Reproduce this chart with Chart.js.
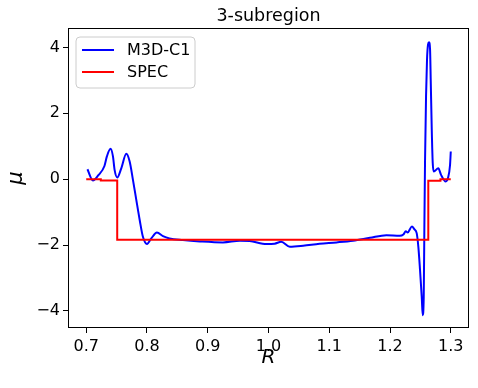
<!DOCTYPE html>
<html>
<head>
<meta charset="utf-8">
<script src="https://cdn.jsdelivr.net/npm/chart.js@4/dist/chart.umd.min.js"></script>
<style>
  html, body { margin: 0; padding: 0; background: #fff; }
  #muChart { display: block; }
</style>
</head>
<body>
<canvas id="muChart" width="478" height="388"></canvas>
<script>
// M3D-C1 profile
const m3dR = [0.702, 0.711, 0.720, 0.730, 0.734, 0.740, 0.744, 0.7467, 0.751, 0.7577, 0.766, 0.7714,
  0.7769, 0.7824, 0.788, 0.7933, 0.800, 0.8071, 0.8164, 0.8263, 0.837, 0.859, 0.887, 0.925, 0.953,
  0.969, 0.997, 1.010, 1.021, 1.035, 1.057, 1.084, 1.112, 1.139, 1.167, 1.194, 1.216, 1.222, 1.226,
  1.229, 1.236, 1.240, 1.2439, 1.2466, 1.2494, 1.2522, 1.2538, 1.2555, 1.2565, 1.2576, 1.2593, 1.2609,
  1.2626, 1.2642, 1.2659, 1.2670, 1.2687, 1.2703, 1.2720, 1.2795, 1.284, 1.2917, 1.2955, 1.2988, 1.300];
const m3dMu = [0.30, -0.04, 0.12, 0.40, 0.69, 0.92, 0.69, 0.28, 0.05, 0.33, 0.77, 0.54,
  -0.02, -0.63, -1.24, -1.75, -1.97, -1.80, -1.62, -1.73, -1.80, -1.85, -1.89, -1.92, -1.87,
  -1.88, -1.97, -1.96, -1.90, -2.05, -2.02, -1.96, -1.92, -1.87, -1.78, -1.70, -1.72, -1.68, -1.58,
  -1.62, -1.44, -1.52, -1.64, -2.05, -2.76, -3.57, -4.13, -3.57, -1.54, 0.49, 2.51, 3.63,
  4.09, 4.16, 3.94, 3.02, 1.51, 0.49, 0.23, 0.33, 0.13, -0.07, 0.04, 0.43, 0.84];

// SPEC step profile (value holds from each R to the next)
const specR = [0.700, 0.724, 0.751, 1.263, 1.283, 1.300];
const specMu = [0.00, -0.04, -1.84, -0.05, 0.00, 0.00];

const xTicks = [0.7, 0.8, 0.9, 1.0, 1.1, 1.2, 1.3];
const yTicks = [-4, -2, 0, 2, 4];

const titleText = '3-subregion';
const seriesNames = ['M3D-C1', 'SPEC'];
const seriesColors = ['#0000ff', '#ff0000'];

const toPoints = (xs, ys) => xs.map((x, i) => ({ x: x, y: ys[i] }));

// matplotlib style frame, title and legend
const framePlugin = {
  id: 'frame',
  afterDraw(chart) {
    const { ctx, chartArea: a } = chart;
    ctx.save();
    ctx.strokeStyle = '#000';
    ctx.lineWidth = 1;
    ctx.strokeRect(a.left + 0.5, a.top + 0.5, a.right - a.left - 1, a.bottom - a.top - 1);

    ctx.fillStyle = '#000';
    ctx.font = '17.5px "DejaVu Sans"';
    ctx.textAlign = 'center';
    ctx.textBaseline = 'alphabetic';
    ctx.fillText(titleText, (a.left + a.right) / 2, 21);

    // legend box
    const bx = 76, by = 37, bw = 119, bh = 51, r = 4;
    ctx.beginPath();
    ctx.moveTo(bx + r, by);
    ctx.arcTo(bx + bw, by, bx + bw, by + bh, r);
    ctx.arcTo(bx + bw, by + bh, bx, by + bh, r);
    ctx.arcTo(bx, by + bh, bx, by, r);
    ctx.arcTo(bx, by, bx + bw, by, r);
    ctx.closePath();
    ctx.fillStyle = 'rgba(255,255,255,0.8)';
    ctx.fill();
    ctx.strokeStyle = '#cccccc';
    ctx.stroke();

    ctx.textAlign = 'left';
    ctx.textBaseline = 'middle';
    ctx.font = '16px "DejaVu Sans"';
    seriesNames.forEach((name, i) => {
      const y = 50 + i * 22;
      ctx.strokeStyle = seriesColors[i];
      ctx.lineWidth = 2;
      ctx.beginPath();
      ctx.moveTo(82, y);
      ctx.lineTo(114, y);
      ctx.stroke();
      ctx.fillStyle = '#000';
      ctx.fillText(name, 127, y + 1);
    });
    ctx.restore();
  }
};

const ctx = document.getElementById('muChart').getContext('2d');
const muChart = new Chart(ctx, {
  type: 'scatter',
  data: {
    datasets: [{
      label: seriesNames[0],
      data: toPoints(m3dR, m3dMu),
      showLine: true,
      borderColor: seriesColors[0],
      borderWidth: 2,
      pointRadius: 0,
      cubicInterpolationMode: 'monotone',
      order: 1
    }, {
      label: seriesNames[1],
      data: toPoints(specR, specMu),
      showLine: true,
      stepped: 'before',
      borderColor: seriesColors[1],
      borderWidth: 2,
      pointRadius: 0,
      order: 0
    }]
  },
  options: {
    responsive: false,
    animation: false,
    layout: { padding: { left: 0, right: 9, top: 28, bottom: 0 } },
    plugins: {
      legend: { display: false },
      title: { display: false },
      tooltip: { enabled: false }
    },
    scales: {
      x: {
        type: 'linear',
        min: 0.67,
        max: 1.33,
        afterFit: s => { s.height = 60; },
        afterBuildTicks: s => { s.ticks = xTicks.map(v => ({ value: v })); },
        grid: { drawOnChartArea: false, tickLength: 5, tickColor: '#000' },
        border: { display: false },
        ticks: {
          color: '#000',
          padding: 4,
          maxRotation: 0,
          font: { family: 'DejaVu Sans', size: 16 },
          callback: v => v.toFixed(1)
        },
        title: {
          display: true,
          text: 'R',
          color: '#000',
          font: { family: 'DejaVu Sans', size: 20, style: 'italic' },
          padding: { top: 0, bottom: 18 }
        }
      },
      y: {
        type: 'linear',
        min: -4.52,
        max: 4.59,
        afterFit: s => { s.width = 68; },
        afterBuildTicks: s => { s.ticks = yTicks.map(v => ({ value: v })); },
        grid: { drawOnChartArea: false, tickLength: 5, tickColor: '#000' },
        border: { display: false },
        ticks: {
          color: '#000',
          padding: 3,
          font: { family: 'DejaVu Sans', size: 16 },
          callback: v => (v < 0 ? '\u2212' + Math.abs(v) : String(v))
        },
        title: {
          display: true,
          text: 'μ',
          color: '#000',
          font: { family: 'DejaVu Sans', size: 21, style: 'italic' },
          padding: { top: 4, bottom: 0 }
        }
      }
    }
  },
  plugins: [framePlugin]
});
</script>
</body>
</html>
